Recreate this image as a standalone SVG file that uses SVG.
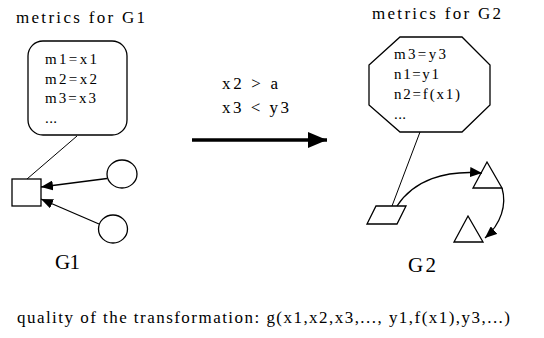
<svg xmlns="http://www.w3.org/2000/svg" width="544" height="338" viewBox="0 0 544 338" font-family="'Liberation Serif','Times New Roman',serif">
<defs>
<style>
text{font-family:"Liberation Serif","Times New Roman",serif;fill:#000}
.t16{font-size:17px}
.t14{font-size:15px}
.t20{font-size:21px}
.shape{fill:#fff;stroke:#000;stroke-width:1.3}
.conn{fill:none;stroke:#000;stroke-width:1.3}
.thin{fill:none;stroke:#000;stroke-width:1}
</style>
<marker id="ah" markerUnits="userSpaceOnUse" markerWidth="12" markerHeight="10" refX="12" refY="5" orient="auto">
<path d="M0,0 L12,5 L0,10 z" fill="#000"/>
</marker>
<marker id="big" markerUnits="userSpaceOnUse" markerWidth="19" markerHeight="16" refX="19" refY="8" orient="auto">
<path d="M0,0 L19,8 L0,16 z" fill="#000"/>
</marker>
</defs>
<rect width="544" height="338" fill="#fff"/>

<g id="metrics-g1">
<text class="t16" x="16" y="23" textLength="129">metrics for G1</text>
<rect class="shape" x="28" y="41" width="99" height="94" rx="15" ry="15"/>
<text class="t14" x="45" y="64" textLength="52">m1=x1</text>
<text class="t14" x="45" y="84" textLength="52">m2=x2</text>
<text class="t14" x="45" y="103" textLength="51">m3=x3</text>
<text class="t14" x="45" y="123" textLength="12">...</text>
</g>

<g id="metrics-g2">
<text class="t16" x="372" y="19" textLength="129">metrics for G2</text>
<polygon class="shape" points="400,37 462,37 490,65 490,105 462,132 400,132 369,105 369,65"/>
<text class="t14" x="394" y="59" textLength="52">m3=y3</text>
<text class="t14" x="394" y="79" textLength="45">n1=y1</text>
<text class="t14" x="394" y="99" textLength="66">n2=f(x1)</text>
<text class="t14" x="394" y="119" textLength="12">...</text>
</g>

<g id="g1-square"><rect class="shape" x="12" y="179" width="29" height="27"/></g>
<g id="g1-circle1"><ellipse class="shape" cx="122" cy="174" rx="15" ry="14"/></g>
<g id="g1-circle2"><ellipse class="shape" cx="113" cy="229" rx="14.5" ry="14"/></g>
<g id="g1-label"><text class="t20" x="55" y="269" textLength="25">G1</text></g>

<g id="g2-parallelogram"><polygon class="shape" points="376,206 406,206 397,224 367,224"/></g>
<g id="g2-triangle1"><polygon class="shape" points="487,162 502,188 473,188"/></g>
<g id="g2-triangle2"><polygon class="shape" points="468,216 483,242 454,242"/></g>
<g id="g2-label"><text class="t20" x="408" y="272" textLength="28">G2</text></g>

<g id="transform">
<text class="t16" x="222" y="89" textLength="56">x2 &gt; a</text>
<text class="t16" x="222" y="113" textLength="67">x3 &lt; y3</text>
</g>

<g id="connectors">
<line class="thin" x1="77" y1="136" x2="27" y2="179"/>
<line class="thin" x1="420" y1="132" x2="392" y2="206"/>
<line class="conn" x1="107" y1="178.5" x2="41" y2="187" marker-end="url(#ah)"/>
<line class="conn" x1="99" y1="224" x2="41" y2="199" marker-end="url(#ah)"/>
<path class="conn" d="M397,206 C414,180 445,170 482,173" marker-end="url(#ah)"/>
<path class="conn" d="M502,188 C507,205 501,224 485,238" marker-end="url(#ah)"/>
<line x1="192" y1="140" x2="327" y2="140" stroke="#000" stroke-width="3.5" marker-end="url(#big)"/>
</g>

<g id="quality">
<text class="t16" x="17" y="323" textLength="493">quality of the transformation: g(x1,x2,x3,..., y1,f(x1),y3,...)</text>
</g>
</svg>
